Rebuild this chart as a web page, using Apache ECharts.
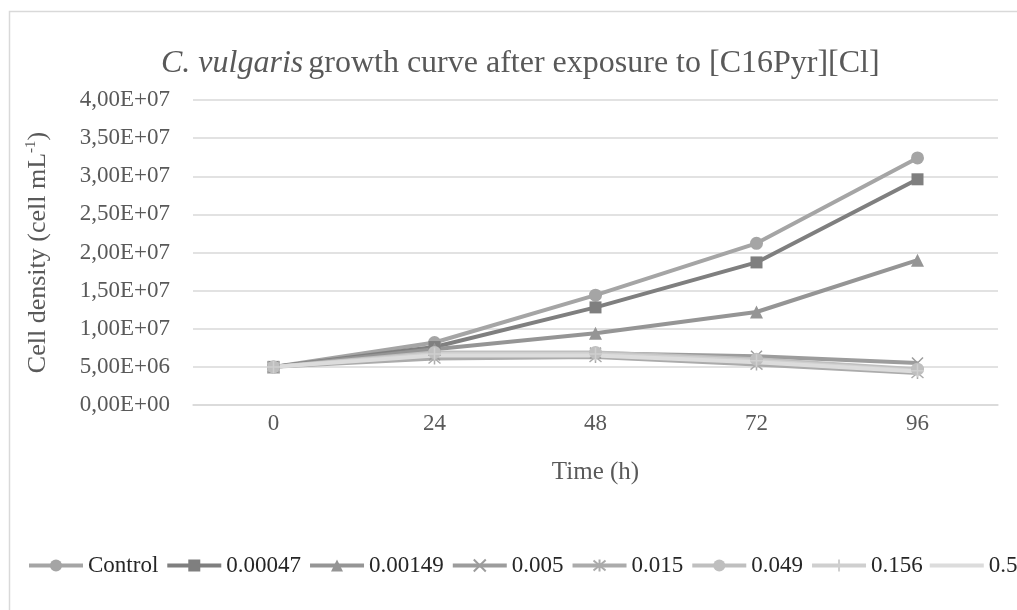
<!DOCTYPE html>
<html>
<head>
<meta charset="utf-8">
<script src="https://cdn.jsdelivr.net/npm/echarts@6/dist/echarts.min.js"></script>
<style>html,body{margin:0;padding:0;background:#fff}#c{width:1017px;height:610px}</style>
</head>
<body>
<div id="c"></div>
<script>
var categories = ['0', '24', '48', '72', '96'];
var seriesNames = ['Control', '0.00047', '0.00149', '0.005', '0.015', '0.049', '0.156', '0.5'];
var control = [5.0e6, 8.2e6, 1.44e7, 2.12e7, 3.24e7];
var c00047 = [5.0e6, 7.6e6, 1.28e7, 1.87e7, 2.96e7];
var c00149 = [5.0e6, 7.3e6, 9.4e6, 1.22e7, 1.90e7];
var c0005 = [5.0e6, 6.6e6, 6.8e6, 6.4e6, 5.5e6];
var c0015 = [5.0e6, 6.1e6, 6.3e6, 5.3e6, 4.2e6];
var c0049 = [5.0e6, 6.9e6, 6.9e6, 6.0e6, 4.7e6];
var c0156 = [5.0e6, 6.7e6, 6.7e6, 5.8e6, 4.5e6];
var c05 = [5.0e6, 6.5e6, 6.5e6, 5.6e6, 4.4e6];
var yTicks = { min: 0, max: 4e7, interval: 5e6 };

var allData = [control, c00047, c00149, c0005, c0015, c0049, c0156, c05];
var colors = ['#a5a5a5', '#7f7f7f', '#959595', '#9c9c9c', '#ababab', '#bfbfbf', '#cfcfcf', '#dcdcdc'];
var symbols = ['circle', 'rect', 'triangle',
  'path://M0,0L10,10M10,0L0,10',
  'path://M0,0L10,10M10,0L0,10M5,-1L5,11',
  'circle',
  'path://M5,0L5,10M0,5L10,5',
  'none'];
var symSizes = [13, 12, 13, 11, 12, 13, 13, 0];
var strokeOnly = [false, false, false, true, true, false, true, false];

function fmt(v) {
  if (v === 0) return '0,00E+00';
  var e = Math.floor(Math.log10(Math.abs(v)) + 1e-9);
  var m = v / Math.pow(10, e);
  var es = (e < 0 ? '-' : '+') + (Math.abs(e) < 10 ? '0' : '') + Math.abs(e);
  return m.toFixed(2).replace('.', ',') + 'E' + es;
}

var font = '"Liberation Serif", "Times New Roman", serif';
var series = seriesNames.map(function (n, i) {
  return {
    name: n, type: 'line', data: allData[i],
    symbol: symbols[i], symbolSize: symSizes[i],
    showSymbol: symbols[i] !== 'none',
    lineStyle: { color: colors[i], width: 4 },
    itemStyle: strokeOnly[i]
      ? { color: 'rgba(0,0,0,0)', borderColor: colors[i], borderWidth: 1.5 }
      : { color: colors[i], borderWidth: 0 },
    emphasis: { disabled: true },
    animation: false
  };
});

var legendData = seriesNames.map(function (n, i) {
  if (symbols[i] === 'none') {
    return { name: n, icon: 'path://M0,0L0.01,0M0,5.5L54,5.5L54,9.5L0,9.5ZM0,15L0.01,15', itemStyle: { color: colors[i] } };
  }
  return { name: n };
});

var chart = echarts.init(document.getElementById('c'), null, { renderer: 'canvas' });
chart.setOption({
  backgroundColor: '#fff',
  animation: false,
  graphic: [{
    type: 'rect', left: 7, top: 9,
    shape: { width: 1100, height: 700 },
    style: { fill: 'none', stroke: '#d9d9d9', lineWidth: 1.5 },
    silent: true
  }],
  title: {
    text: '{i|C. vulgaris} {n|growth curve after exposure to [C16Pyr][Cl]}',
    left: 156, top: 43,
    textStyle: {
      rich: {
        i: { fontFamily: font, fontSize: 32, fontStyle: 'italic', fontWeight: 'normal', color: '#595959' },
        n: { fontFamily: font, fontSize: 32, fontWeight: 'normal', color: '#595959' }
      }
    }
  },
  legend: {
    data: legendData,
    left: 22, top: 549, width: 1500,
    itemWidth: 54, itemHeight: 15, itemGap: 7,
    lineStyle: { width: 4 },
    textStyle: { fontFamily: font, fontSize: 23, color: '#262626' }
  },
  grid: { left: 193, right: 19, top: 100, bottom: 205, containLabel: false },
  xAxis: {
    type: 'category', data: categories, boundaryGap: true,
    name: 'Time (h)', nameLocation: 'middle', nameGap: 55,
    nameTextStyle: { fontFamily: font, fontSize: 25, color: '#595959' },
    axisLine: { show: true, lineStyle: { color: '#d9d9d9', width: 1.5 } },
    axisTick: { show: false },
    axisLabel: { fontFamily: font, fontSize: 23, color: '#595959', margin: 7 }
  },
  yAxis: {
    type: 'value', min: yTicks.min, max: yTicks.max, interval: yTicks.interval,
    name: '{a|Cell density (cell mL}{s|-1}{a|)}', nameLocation: 'middle', nameGap: 140,
    nameTextStyle: {
      rich: {
        a: { fontFamily: font, fontSize: 26, color: '#595959', lineHeight: 29 },
        s: { fontFamily: font, fontSize: 15, color: '#595959', verticalAlign: 'top', lineHeight: 29 }
      }
    },
    axisLine: { show: false }, axisTick: { show: false },
    splitLine: { lineStyle: { color: '#d9d9d9', width: 1.5 } },
    axisLabel: { fontFamily: font, fontSize: 23, color: '#595959', margin: 23, formatter: fmt }
  },
  series: series
});
</script>
</body>
</html>
